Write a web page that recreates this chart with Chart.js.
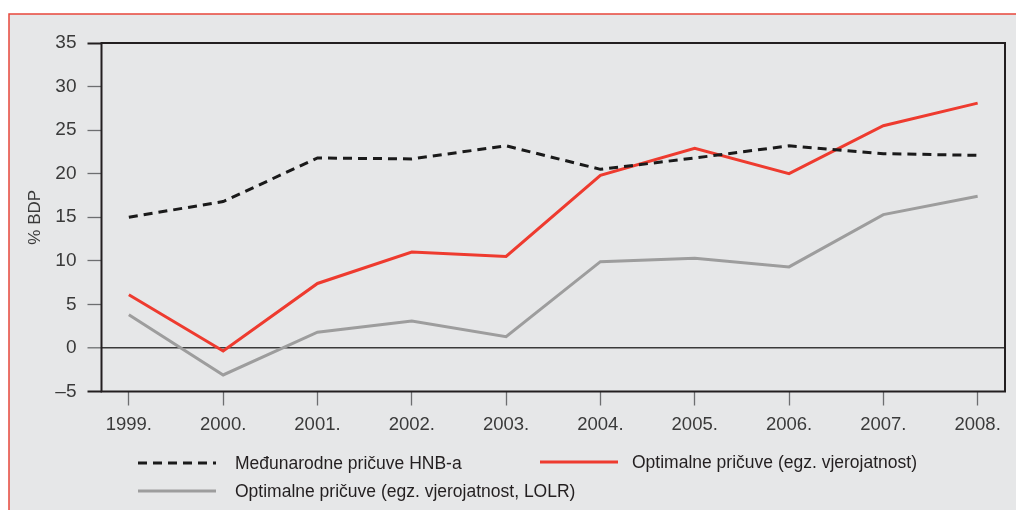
<!DOCTYPE html>
<html>
<head>
<meta charset="utf-8">
<script src="https://cdn.jsdelivr.net/npm/chart.js@4/dist/chart.umd.min.js"></script>
<style>
  html, body { margin: 0; padding: 0; background: #ffffff; }
  #wrap { width: 1016px; height: 510px; position: relative; }
</style>
</head>
<body>
<div id="wrap"><canvas id="c" width="1016" height="510"></canvas></div>
<script>
// ---- data ----
const years = [1999, 2000, 2001, 2002, 2003, 2004, 2005, 2006, 2007, 2008];
const yearLabels = ["1999.", "2000.", "2001.", "2002.", "2003.", "2004.", "2005.", "2006.", "2007.", "2008."];
const reservesHNB = [15.0, 16.8, 21.8, 21.7, 23.2, 20.5, 21.8, 23.2, 22.3, 22.1];
const optimalProb = [6.1, -0.35, 7.4, 11.0, 10.5, 19.8, 22.9, 20.0, 25.5, 28.1];
const optimalProbLOLR = [3.8, -3.1, 1.8, 3.1, 1.3, 9.9, 10.3, 9.3, 15.3, 17.4];
const seriesNames = ["Međunarodne pričuve HNB-a", "Optimalne pričuve (egz. vjerojatnost)", "Optimalne pričuve (egz. vjerojatnost, LOLR)"];
const yTicks = [-5, 0, 5, 10, 15, 20, 25, 30, 35];
const yTitle = "% BDP";

const FONT = "'Liberation Sans', Arial, Helvetica, sans-serif";
const TEXT = "#3a3a3a";
const FRAME = "#231f20";
const RED = "#ee3b2f";
const GRAY = "#9d9d9d";

const toPts = arr => years.map((y, i) => ({ x: y, y: arr[i] }));

const panelPlugin = {
  id: 'panel',
  beforeDraw(chart) {
    const ctx = chart.ctx;
    ctx.save();
    ctx.fillStyle = '#ffffff';
    ctx.fillRect(0, 0, chart.width, chart.height);
    ctx.fillStyle = '#e6e7e8';
    ctx.fillRect(9, 14, chart.width - 9, chart.height - 14);
    ctx.strokeStyle = '#e8473b';
    ctx.lineWidth = 1.5;
    ctx.beginPath();
    ctx.moveTo(chart.width, 14);
    ctx.lineTo(9, 14);
    ctx.lineTo(9, chart.height);
    ctx.stroke();
    ctx.restore();
  },
  beforeDatasetsDraw(chart) {
    const { ctx, chartArea: a } = chart;
    ctx.save();
    ctx.strokeStyle = FRAME;
    ctx.lineWidth = 2;
    ctx.strokeRect(a.left, a.top, a.right - a.left, a.bottom - a.top);
    ctx.restore();
  },
  afterDraw(chart) {
    const ctx = chart.ctx;
    const ds = chart.data.datasets;
    const items = [
      { i: 0, x: 138, y: 463, tx: 235 },
      { i: 1, x: 540, y: 462, tx: 632 },
      { i: 2, x: 138, y: 491, tx: 235 }
    ];
    ctx.save();
    items.forEach(it => {
      const d = ds[it.i];
      ctx.strokeStyle = d.borderColor;
      ctx.lineWidth = d.borderWidth;
      ctx.setLineDash(d.borderDash || []);
      ctx.beginPath();
      ctx.moveTo(it.x, it.y);
      ctx.lineTo(it.x + 78, it.y);
      ctx.stroke();
      ctx.setLineDash([]);
      ctx.fillStyle = '#231f20';
      ctx.font = "17.5px " + FONT;
      ctx.textBaseline = 'middle';
      ctx.textAlign = 'left';
      ctx.fillText(d.label, it.tx, it.y + 1);
    });
    ctx.restore();
  }
};

new Chart(document.getElementById('c'), {
  type: 'line',
  data: {
    datasets: [
      { label: seriesNames[0], data: toPts(reservesHNB), borderColor: '#1a1a1a', borderWidth: 3, borderDash: [9, 6], pointRadius: 0, tension: 0, fill: false },
      { label: seriesNames[1], data: toPts(optimalProb), borderColor: RED, borderWidth: 3, pointRadius: 0, tension: 0, fill: false },
      { label: seriesNames[2], data: toPts(optimalProbLOLR), borderColor: GRAY, borderWidth: 3, pointRadius: 0, tension: 0, fill: false }
    ]
  },
  options: {
    responsive: false,
    animation: false,
    events: [],
    layout: { padding: { left: 0, top: 43, right: 11, bottom: 0 } },
    plugins: { legend: { display: false }, tooltip: { enabled: false } },
    scales: {
      x: {
        type: 'linear',
        min: 1998.71,
        max: 2008.29,
        afterBuildTicks: s => { s.ticks = years.map(v => ({ value: v })); },
        afterFit: s => { s.height = 118.5; },
        border: { display: false },
        grid: { drawOnChartArea: false, drawTicks: true, tickLength: 14, tickColor: '#6d6e70', tickWidth: 1.3 },
        ticks: {
          autoSkip: false, maxRotation: 0, padding: 8,
          color: TEXT, font: { family: FONT, size: 18.5 },
          callback: v => yearLabels[years.indexOf(v)]
        }
      },
      y: {
        min: -5,
        max: 35,
        afterBuildTicks: s => { s.ticks = yTicks.map(v => ({ value: v })); },
        afterFit: s => { s.width = 101.5; },
        border: { display: false },
        grid: {
          drawTicks: true, tickLength: 14,
          color: c => c.tick && c.tick.value === 0 ? '#3a3a3a' : 'rgba(0,0,0,0)',
          lineWidth: c => c.tick && c.tick.value === 0 ? 1.6 : 1,
          tickColor: c => (c.tick && (c.tick.value === 35 || c.tick.value === -5)) ? FRAME : '#6d6e70',
          tickWidth: c => (c.tick && (c.tick.value === 35 || c.tick.value === -5)) ? 2 : 1.3
        },
        ticks: {
          padding: 11, color: TEXT, font: { family: FONT, size: 19 },
          callback: v => v < 0 ? '\u2013' + Math.abs(v) : String(v)
        },
        title: { display: true, text: yTitle, color: TEXT, font: { family: FONT, size: 17 }, padding: { top: 25, bottom: 0 } }
      }
    }
  },
  plugins: [panelPlugin]
});
</script>
</body>
</html>
